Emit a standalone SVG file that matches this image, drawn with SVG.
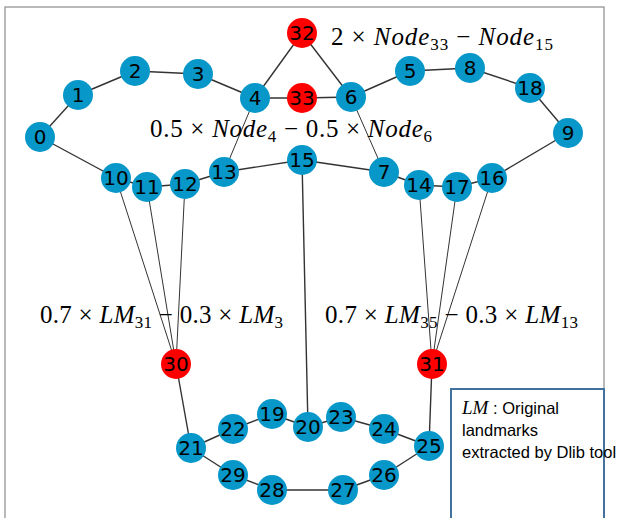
<svg xmlns="http://www.w3.org/2000/svg" width="623" height="518" viewBox="0 0 623 518">
<style>
.e{stroke:#333;stroke-width:1.4;fill:none}
.t{stroke:#333;stroke-width:1;fill:none}
.b circle{fill:#0797c9}
.r circle{fill:#ff0000}
.n text{font-family:"DejaVu Sans",sans-serif;font-size:20px;fill:#000;text-anchor:middle;dominant-baseline:central}
.m{font-family:"Liberation Serif","DejaVu Serif",serif;font-size:25px;fill:#000}
.i{font-style:italic}
.s{font-size:17px}
.lg{font-family:"Liberation Sans","Open Sans",sans-serif;font-size:16.5px;fill:#000}
</style>
<rect x="5" y="7" width="599" height="520" fill="#fff" stroke="#8a8a8a" stroke-width="1.2"/>
<g id="connectors">
<line class="e" x1="40" y1="137" x2="78" y2="95"/>
<line class="e" x1="78" y1="95" x2="135" y2="71"/>
<line class="e" x1="135" y1="71" x2="198" y2="74"/>
<line class="e" x1="198" y1="74" x2="255" y2="98"/>
<line class="e" x1="255" y1="98" x2="302" y2="33"/>
<line class="e" x1="255" y1="98" x2="302" y2="98"/>
<line class="e" x1="302" y1="98" x2="351" y2="97"/>
<line class="e" x1="302" y1="33" x2="351" y2="97"/>
<line class="e" x1="351" y1="97" x2="410" y2="71"/>
<line class="e" x1="410" y1="71" x2="470" y2="68"/>
<line class="e" x1="470" y1="68" x2="530" y2="88"/>
<line class="e" x1="530" y1="88" x2="568" y2="133"/>
<line class="e" x1="568" y1="133" x2="492" y2="178"/>
<line class="e" x1="492" y1="178" x2="457" y2="187"/>
<line class="e" x1="457" y1="187" x2="419" y2="185"/>
<line class="e" x1="419" y1="185" x2="384" y2="172"/>
<line class="t" x1="384" y1="172" x2="351" y2="97"/>
<line class="e" x1="384" y1="172" x2="302" y2="160"/>
<line class="e" x1="302" y1="160" x2="224" y2="172"/>
<line class="t" x1="224" y1="172" x2="255" y2="98"/>
<line class="e" x1="224" y1="172" x2="185" y2="184"/>
<line class="e" x1="185" y1="184" x2="147" y2="187"/>
<line class="e" x1="147" y1="187" x2="116" y2="178"/>
<line class="e" x1="116" y1="178" x2="40" y2="137"/>
<line class="e" x1="302" y1="160" x2="308" y2="427"/>
<line class="t" x1="116" y1="178" x2="176" y2="364"/>
<line class="t" x1="147" y1="187" x2="176" y2="364"/>
<line class="t" x1="185" y1="184" x2="176" y2="364"/>
<line class="t" x1="419" y1="185" x2="432" y2="364"/>
<line class="t" x1="457" y1="187" x2="432" y2="364"/>
<line class="t" x1="492" y1="178" x2="432" y2="364"/>
<line class="e" x1="176" y1="364" x2="191" y2="448"/>
<line class="e" x1="432" y1="364" x2="429" y2="446"/>
<line class="e" x1="191" y1="448" x2="233" y2="429"/>
<line class="e" x1="233" y1="429" x2="272" y2="414"/>
<line class="e" x1="272" y1="414" x2="308" y2="427"/>
<line class="e" x1="308" y1="427" x2="341" y2="417"/>
<line class="e" x1="341" y1="417" x2="384" y2="429"/>
<line class="e" x1="384" y1="429" x2="429" y2="446"/>
<line class="e" x1="429" y1="446" x2="384" y2="475"/>
<line class="e" x1="384" y1="475" x2="343" y2="490"/>
<line class="e" x1="343" y1="490" x2="272" y2="490"/>
<line class="e" x1="272" y1="490" x2="233" y2="475"/>
<line class="e" x1="233" y1="475" x2="191" y2="448"/>
</g>
<g id="n0" class="n b"><circle cx="40" cy="137" r="15"/><text x="40" y="137">0</text></g>
<g id="n1" class="n b"><circle cx="78" cy="95" r="15"/><text x="78" y="95">1</text></g>
<g id="n2" class="n b"><circle cx="135" cy="71" r="15"/><text x="135" y="71">2</text></g>
<g id="n3" class="n b"><circle cx="198" cy="74" r="15"/><text x="198" y="74">3</text></g>
<g id="n4" class="n b"><circle cx="255" cy="98" r="15"/><text x="255" y="98">4</text></g>
<g id="n32" class="n r"><circle cx="302" cy="33" r="15"/><text x="302" y="33">32</text></g>
<g id="n33" class="n r"><circle cx="302" cy="98" r="15"/><text x="302" y="98">33</text></g>
<g id="n6" class="n b"><circle cx="351" cy="97" r="15"/><text x="351" y="97">6</text></g>
<g id="n5" class="n b"><circle cx="410" cy="71" r="15"/><text x="410" y="71">5</text></g>
<g id="n8" class="n b"><circle cx="470" cy="68" r="15"/><text x="470" y="68">8</text></g>
<g id="n18" class="n b"><circle cx="530" cy="88" r="15"/><text x="530" y="88">18</text></g>
<g id="n9" class="n b"><circle cx="568" cy="133" r="15"/><text x="568" y="133">9</text></g>
<g id="n10" class="n b"><circle cx="116" cy="178" r="15"/><text x="116" y="178">10</text></g>
<g id="n11" class="n b"><circle cx="147" cy="187" r="15"/><text x="147" y="187">11</text></g>
<g id="n12" class="n b"><circle cx="185" cy="184" r="15"/><text x="185" y="184">12</text></g>
<g id="n13" class="n b"><circle cx="224" cy="172" r="15"/><text x="224" y="172">13</text></g>
<g id="n15" class="n b"><circle cx="302" cy="160" r="15"/><text x="302" y="160">15</text></g>
<g id="n7" class="n b"><circle cx="384" cy="172" r="15"/><text x="384" y="172">7</text></g>
<g id="n14" class="n b"><circle cx="419" cy="185" r="15"/><text x="419" y="185">14</text></g>
<g id="n17" class="n b"><circle cx="457" cy="187" r="15"/><text x="457" y="187">17</text></g>
<g id="n16" class="n b"><circle cx="492" cy="178" r="15"/><text x="492" y="178">16</text></g>
<g id="n30" class="n r"><circle cx="176" cy="364" r="15"/><text x="176" y="364">30</text></g>
<g id="n31" class="n r"><circle cx="432" cy="364" r="15"/><text x="432" y="364">31</text></g>
<g id="n19" class="n b"><circle cx="272" cy="414" r="15"/><text x="272" y="414">19</text></g>
<g id="n20" class="n b"><circle cx="308" cy="427" r="15"/><text x="308" y="427">20</text></g>
<g id="n23" class="n b"><circle cx="341" cy="417" r="15"/><text x="341" y="417">23</text></g>
<g id="n22" class="n b"><circle cx="233" cy="429" r="15"/><text x="233" y="429">22</text></g>
<g id="n24" class="n b"><circle cx="384" cy="429" r="15"/><text x="384" y="429">24</text></g>
<g id="n21" class="n b"><circle cx="191" cy="448" r="15"/><text x="191" y="448">21</text></g>
<g id="n25" class="n b"><circle cx="429" cy="446" r="15"/><text x="429" y="446">25</text></g>
<g id="n29" class="n b"><circle cx="233" cy="475" r="15"/><text x="233" y="475">29</text></g>
<g id="n26" class="n b"><circle cx="384" cy="475" r="15"/><text x="384" y="475">26</text></g>
<g id="n28" class="n b"><circle cx="272" cy="490" r="15"/><text x="272" y="490">28</text></g>
<g id="n27" class="n b"><circle cx="343" cy="490" r="15"/><text x="343" y="490">27</text></g>
<g id="labels">
<text class="m" x="331" y="45" textLength="222" lengthAdjust="spacing">2 × <tspan class="i">Node</tspan><tspan class="s" dy="5">33</tspan><tspan dy="-5"> − </tspan><tspan class="i">Node</tspan><tspan class="s" dy="5">15</tspan></text>
<text class="m" x="150" y="137" textLength="282" lengthAdjust="spacing">0.5 × <tspan class="i">Node</tspan><tspan class="s" dy="5">4</tspan><tspan dy="-5"> − 0.5 × </tspan><tspan class="i">Node</tspan><tspan class="s" dy="5">6</tspan></text>
<text class="m" x="40" y="323" textLength="243" lengthAdjust="spacing">0.7 × <tspan class="i">LM</tspan><tspan class="s" dy="5">31</tspan><tspan dy="-5"> − 0.3 × </tspan><tspan class="i">LM</tspan><tspan class="s" dy="5">3</tspan></text>
<text class="m" x="325" y="323" textLength="253" lengthAdjust="spacing">0.7 × <tspan class="i">LM</tspan><tspan class="s" dy="5">35</tspan><tspan dy="-5"> − 0.3 × </tspan><tspan class="i">LM</tspan><tspan class="s" dy="5">13</tspan></text>
</g>
<g id="legend">
<rect x="451" y="389" width="153" height="140" fill="#fff" stroke="#41719c" stroke-width="2"/>
<text class="lg" x="462" y="414"><tspan class="m i" style="font-size:19px">LM</tspan> : Original</text>
<text class="lg" x="462" y="436">landmarks</text>
<text class="lg" x="462" y="458">extracted by Dlib tool</text>
</g>
</svg>
